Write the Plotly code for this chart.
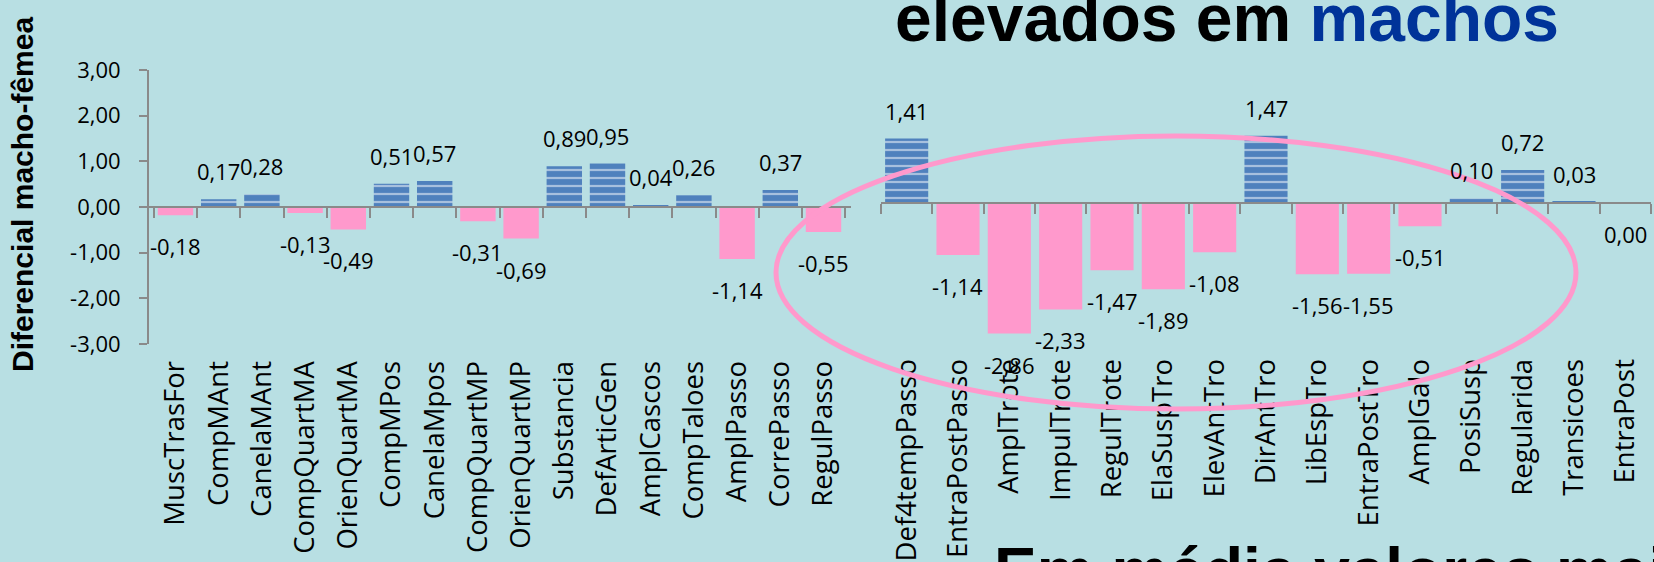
import plotly.graph_objects as go

# ---------------- data ----------------
left_categories = ["MuscTrasFor", "CompMAnt", "CanelaMAnt", "CompQuartMA", "OrienQuartMA",
                   "CompMPos", "CanelaMpos", "CompQuartMP", "OrienQuartMP", "Substancia",
                   "DefArticGen", "AmplCascos", "CompTaloes", "AmplPasso", "CorrePasso",
                   "RegulPasso"]
left_values = [-0.18, 0.17, 0.28, -0.13, -0.49, 0.51, 0.57, -0.31, -0.69, 0.89,
               0.95, 0.04, 0.26, -1.14, 0.37, -0.55]

right_categories = ["Def4tempPasso", "EntraPostPasso", "AmplTrote", "ImpulTrote", "RegulTrote",
                    "ElaSuspTro", "ElevAntTro", "DirAntTro", "LibEspTro", "EntraPostTro",
                    "AmplGalo", "PosiSusp", "Regularida", "Transicoes", "EntraPost"]
right_values = [1.41, -1.14, -2.86, -2.33, -1.47, -1.89, -1.08, 1.47, -1.56, -1.55,
                -0.51, 0.10, 0.72, 0.03, 0.00]

y_tick_values = [3, 2, 1, 0, -1, -2, -3]
y_tick_labels = ["3,00", "2,00", "1,00", "0,00", "-1,00", "-2,00", "-3,00"]

y_title = "Diferencial macho-fêmea"
top_text = "<b>elevados em <span style='color:#003399'>machos</span></b>"
bottom_text = "<b>Em média valores mai</b>"

# ---------------- styling helpers ----------------
W, H = 1654, 562


def fx(p):
    return p / W


def fy(p):
    return 1 - p / H


BG = "#B8DFE3"
BLUE = "#4F81BD"
PINK = "#FF99CC"
AXIS = "#8A8A8A"
FONT = "Open Sans"


def fmt(v):
    return f"{v:.2f}".replace(".", ",")


def bar_trace(cats, vals, xa, ya, width):
    colors = [BLUE if v > 0 else PINK for v in vals]
    shapes = ["-" if v > 0 else "" for v in vals]
    return go.Bar(
        x=cats, y=vals, xaxis=xa, yaxis=ya, width=width,
        marker=dict(color=colors, line=dict(width=0),
                    pattern=dict(shape=shapes, fgcolor="white", fillmode="overlay",
                                 size=8, solidity=0.28)),
        hoverinfo="skip", showlegend=False,
    )


fig = go.Figure()
fig.add_trace(bar_trace(left_categories, left_values, "x", "y", 0.82))
fig.add_trace(bar_trace(right_categories, right_values, "x2", "y2", 0.84))

line_axis = dict(type="category", anchor="free", automargin=False, showline=True,
                 linecolor=AXIS, linewidth=2,
                 ticks="outside", ticklen=10, tickwidth=2, tickcolor=AXIS,
                 tickson="boundaries", showticklabels=True, tickangle=-90,
                 tickfont=dict(family=FONT, size=27.5, color="black"),
                 showgrid=False, zeroline=False)

L_DOM = [fx(148), fx(851)]
R_DOM = [fx(881), fx(1651)]

fig.update_layout(
    width=W, height=H, autosize=False,
    margin=dict(l=0, r=0, t=0, b=0, pad=0),
    paper_bgcolor=BG, plot_bgcolor=BG,
    barmode="overlay",
    xaxis=dict(domain=L_DOM, position=fy(207), ticklabelstandoff=142, **line_axis),
    xaxis2=dict(domain=R_DOM, position=fy(203), ticklabelstandoff=144, **line_axis),
    yaxis=dict(domain=[fy(344), fy(70)], range=[-3, 3], anchor="free", position=fx(148),
               automargin=False, showline=True, linecolor=AXIS, linewidth=2,
               ticks="outside", ticklen=8, tickwidth=2, tickcolor=AXIS,
               tickmode="array", tickvals=y_tick_values, ticktext=y_tick_labels,
               tickfont=dict(family=FONT, size=22, color="black"),
               ticklabelstandoff=14, showgrid=False, zeroline=False),
    yaxis2=dict(domain=[fy(340), fy(66)], range=[-3, 3], anchor="x2", visible=False,
                automargin=False),
    showlegend=False,
)

annotations = []
for cats, vals, xr, yr in [(left_categories, left_values, "x", "y"),
                           (right_categories, right_values, "x2", "y2")]:
    for c, v in zip(cats, vals):
        annotations.append(dict(x=c, y=v, xref=xr, yref=yr, text=fmt(v), showarrow=False,
                                yshift=28 if v > 0 else -31, xanchor="center", yanchor="middle",
                                font=dict(family=FONT, size=22, color="black")))

annotations.append(dict(x=fx(23), y=fy(195), xref="paper", yref="paper", text=f"<b>{y_title}</b>",
                        textangle=-90, showarrow=False, xanchor="center", yanchor="middle",
                        font=dict(family="Liberation Sans", size=30, color="black")))
annotations.append(dict(x=fx(893), y=fy(18), xref="paper", yref="paper", text=top_text,
                        showarrow=False, xanchor="left", yanchor="middle",
                        font=dict(family="Liberation Sans", size=66, color="black")))
annotations.append(dict(x=fx(992), y=fy(571), xref="paper", yref="paper", text=bottom_text,
                        showarrow=False, xanchor="left", yanchor="middle",
                        font=dict(family="Liberation Sans", size=64, color="black")))
fig.update_layout(annotations=annotations)

fig.add_shape(type="circle", xref="paper", yref="paper",
              x0=fx(776), x1=fx(1576), y0=fy(409), y1=fy(136),
              line=dict(color=PINK, width=5), layer="above")

fig.write_html("out.html", config={"displayModeBar": False},
               post_script="document.body.style.margin='0';document.body.style.overflow='hidden';")
